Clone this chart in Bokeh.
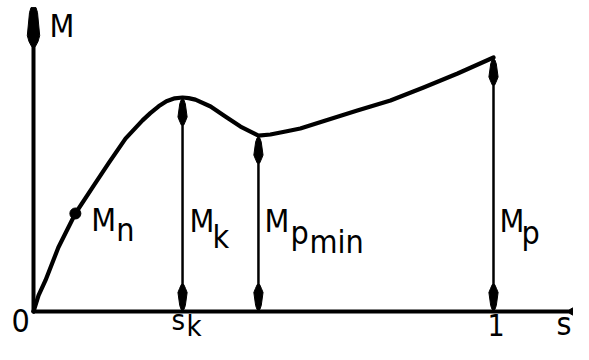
from bokeh.plotting import figure
from bokeh.models import ColumnDataSource, Range1d
from bokeh.embed import file_html
from bokeh.resources import INLINE
from bokeh.core.properties import value, field

# ---------------- data ----------------
# torque-slip curve M(s), torque normalised so that the pull-out torque M_k = 1
curve_s = [0.0, 0.011, 0.026, 0.054, 0.091, 0.128, 0.163, 0.200, 0.237, 0.254,
           0.272, 0.289, 0.307, 0.324, 0.337, 0.352, 0.385, 0.417, 0.450, 0.476,
           0.489, 0.515, 0.548, 0.580, 0.635, 0.704, 0.776, 0.848, 0.922, 1.0]
curve_m = [0.0, 0.075, 0.145, 0.299, 0.458, 0.579, 0.692, 0.808, 0.893, 0.927,
           0.959, 0.983, 0.996, 1.0, 0.997, 0.990, 0.958, 0.911, 0.864, 0.836,
           0.822, 0.827, 0.841, 0.855, 0.893, 0.939, 0.986, 1.047, 1.112, 1.187]

# rated point M_n
rated_s = [0.091]
rated_m = [0.458]

# vertical dimension arrows: M_k, M_pmin, M_p
arrow_names = ["Mk", "Mpmin", "Mp"]
arrow_s = [0.324, 0.489, 1.0]
arrow_m = [1.0, 0.822, 1.187]

# axis extents
axis_s_end = 1.25
axis_m_end = 1.42

# ---------------- layout ----------------
W, H = 573, 344
PX_S = 460.0   # pixels per unit of s
PX_M = 214.0   # pixels per unit of M
ORIG_X, ORIG_Y = 33.0, 311.0  # origin position inside the plot (px)
TEXT_SHIFT = -12              # correction of the text baseline (px)
x0 = -ORIG_X / PX_S
x1 = x0 + W / PX_S
y1 = ORIG_Y / PX_M
y0 = y1 - H / PX_M

p = figure(width=W, height=H, x_range=Range1d(x0, x1), y_range=Range1d(y0, y1),
           output_backend="svg", toolbar_location=None, min_border=0,
           x_axis_type=None, y_axis_type=None)
p.grid.visible = False
p.outline_line_color = None
p.background_fill_color = "white"
p.border_fill_color = "white"

INK = "black"


def head(tip_s, tip_m, dirx, diry, profile):
    """Arrow head polygon around a tip, profile = [(distance, half width)] px."""
    perpx, perpy = -diry, dirx
    right = [(d * -dirx + w * perpx, d * -diry + w * perpy) for d, w in profile]
    left = [(d * -dirx - w * perpx, d * -diry - w * perpy) for d, w in reversed(profile)]
    pts = [(tip_s + dx / PX_S, tip_m - dy / PX_M) for dx, dy in right + left]
    return [q[0] for q in pts], [q[1] for q in pts]


heads_x, heads_y = [], []
small_profile = [(0, 1.4), (4, 2.8), (17, 4.6), (21, 3.0), (25, 1.2)]
for s_val, m_val in zip(arrow_s, arrow_m):
    # upward head touching the curve
    hx, hy = head(s_val, m_val - 2.5 / PX_M, 0, -1, small_profile)
    heads_x.append(hx); heads_y.append(hy)
    # downward head touching the s-axis
    hx, hy = head(s_val, 2.0 / PX_M, 0, 1, small_profile)
    heads_x.append(hx); heads_y.append(hy)

# axis heads
ax_profile = [(0, 2.5), (5, 4.0), (28, 6.2), (34, 4.5), (39, 1.8)]
hx, hy = head(0.0, axis_m_end, 0, -1, ax_profile)
heads_x.append(hx); heads_y.append(hy)
hx, hy = head(axis_s_end, 0.0, 1, 0, ax_profile)
heads_x.append(hx); heads_y.append(hy)

# vertical dimension lines
p.segment(x0=arrow_s, y0=[0.0] * len(arrow_s), x1=arrow_s, y1=arrow_m,
          line_color=INK, line_width=2.5)

# axes
p.segment(x0=[0.0, 0.0], y0=[0.0, 0.0], x1=[axis_s_end - 20 / PX_S, 0.0],
          y1=[0.0, axis_m_end - 20 / PX_M],
          line_color=INK, line_width=4, line_cap="round")

p.patches(xs=heads_x, ys=heads_y, fill_color=INK, line_color=INK, line_width=1,
          line_join="round")

# torque curve
p.line(curve_s, curve_m, line_color=INK, line_width=4.2, line_join="round", line_cap="round")

# rated point
p.scatter(rated_s, rated_m, size=11, marker="circle", fill_color=INK, line_color=INK)

# ---------------- labels ----------------
lab_text, lab_x, lab_y, lab_dx, lab_dy, lab_size = [], [], [], [], [], []


def lab(t, xs, ys, dx, dy, size="32px"):
    lab_text.append(t); lab_x.append(xs); lab_y.append(ys)
    lab_dx.append(dx); lab_dy.append(dy + TEXT_SHIFT); lab_size.append(size)


lab("M", 0.0, axis_m_end, 16, 30)
lab("M", rated_s[0], rated_m[0], 16, 19)
lab("n", rated_s[0], rated_m[0], 41, 29)
lab("M", arrow_s[0], 0.0, 7, -79)
lab("k", arrow_s[0], 0.0, 30, -63)
lab("M", arrow_s[1], 0.0, 6, -79)
lab("p", arrow_s[1], 0.0, 32, -67)
lab("min", arrow_s[1], 0.0, 51, -58)
lab("M", arrow_s[2], 0.0, 6, -79)
lab("p", arrow_s[2], 0.0, 28, -67)
lab("0", 0.0, 0.0, -22, 21)
lab("s", arrow_s[0], 0.0, -11, 20, "29px")
lab("k", arrow_s[0], 0.0, 4, 26, "29px")
lab("1", arrow_s[2], 0.0, -6, 25, "30px")
lab("s", arrow_s[2], 0.0, 63, 24)

src = ColumnDataSource(dict(x=lab_x, y=lab_y, text=lab_text, dx=lab_dx, dy=lab_dy,
                            size=lab_size))
p.text(x="x", y="y", text="text", x_offset="dx", y_offset="dy", source=src,
       text_font=value("DejaVu Sans Condensed"), text_font_size=field("size"),
       text_color=INK, text_align="left", text_baseline="alphabetic")

open("out.html", "w").write(file_html(p, INLINE))
